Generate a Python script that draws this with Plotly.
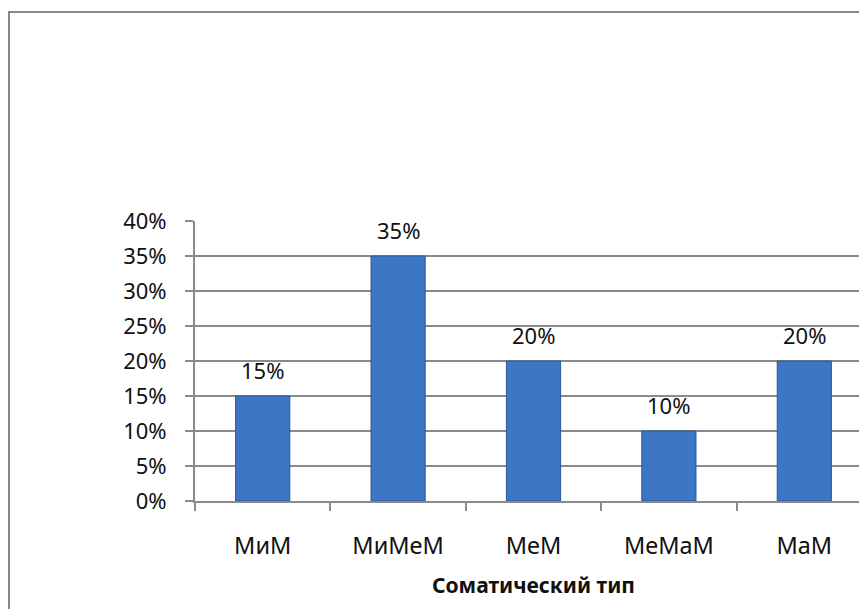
import plotly.graph_objects as go

categories = ["МиМ", "МиМеМ", "МеМ", "МеМаМ", "МаМ"]
values = [0.15, 0.35, 0.20, 0.10, 0.20]
labels = ["15%", "35%", "20%", "10%", "20%"]
axis_title = "Соматический тип"

W, H = 859, 609
L, R, T, B = 195, 0, 221, 108
GRID = "#8a8a8a"
FONT = "Noto Sans"
TXT = "#111111"

fig = go.Figure()
fig.add_trace(go.Bar(
    x=categories, y=values, width=0.4,
    marker=dict(color="#3D76C3", line=dict(color="#2A5896", width=1)),
    hoverinfo="skip",
))

for c, v, t in zip(categories, values, labels):
    fig.add_annotation(x=c, y=v, xref="x", yref="y", text=t, showarrow=False,
                       yanchor="middle", yshift=26,
                       font=dict(family=FONT, size=22, color=TXT))

fig.add_annotation(x=2, y=-0.3, xref="x", yref="paper", text="<b>" + axis_title + "</b>",
                   showarrow=False, yanchor="middle",
                   font=dict(family=FONT, size=21, color=TXT))

plot_w = W - L - R
plot_h = H - T - B
fig.add_shape(type="rect", xref="paper", yref="paper",
              x0=(9 - L) / plot_w, x1=2, y0=-2, y1=(H - B - 12) / plot_h,
              line=dict(color="#878787", width=2), fillcolor="rgba(0,0,0,0)", layer="above")

fig.update_layout(
    width=W, height=H,
    margin=dict(l=L, r=R, t=T, b=B, pad=0),
    paper_bgcolor="white", plot_bgcolor="white",
    font=dict(family=FONT, size=22, color=TXT),
    showlegend=False,
    bargap=0.6,
    xaxis=dict(type="category", range=[-0.5, 4.5 - 13 / 135.4],
               showline=True, linecolor=GRID, linewidth=2,
               ticks="outside", ticklen=8, tickwidth=2, tickcolor=GRID,
               tickson="boundaries", showgrid=False,
               ticklabelstandoff=23,
               tickfont=dict(family=FONT, size=23.5, color=TXT)),
    yaxis=dict(range=[0, 0.4], dtick=0.05, tickformat=".0%",
               showline=True, linecolor=GRID, linewidth=2,
               ticks="outside", ticklen=8, tickwidth=2, tickcolor=GRID,
               showgrid=True, gridcolor=GRID, gridwidth=2,
               zeroline=False, ticklabelstandoff=14,
               tickfont=dict(family=FONT, size=22, color=TXT)),
)

fig.write_html("out.html")
